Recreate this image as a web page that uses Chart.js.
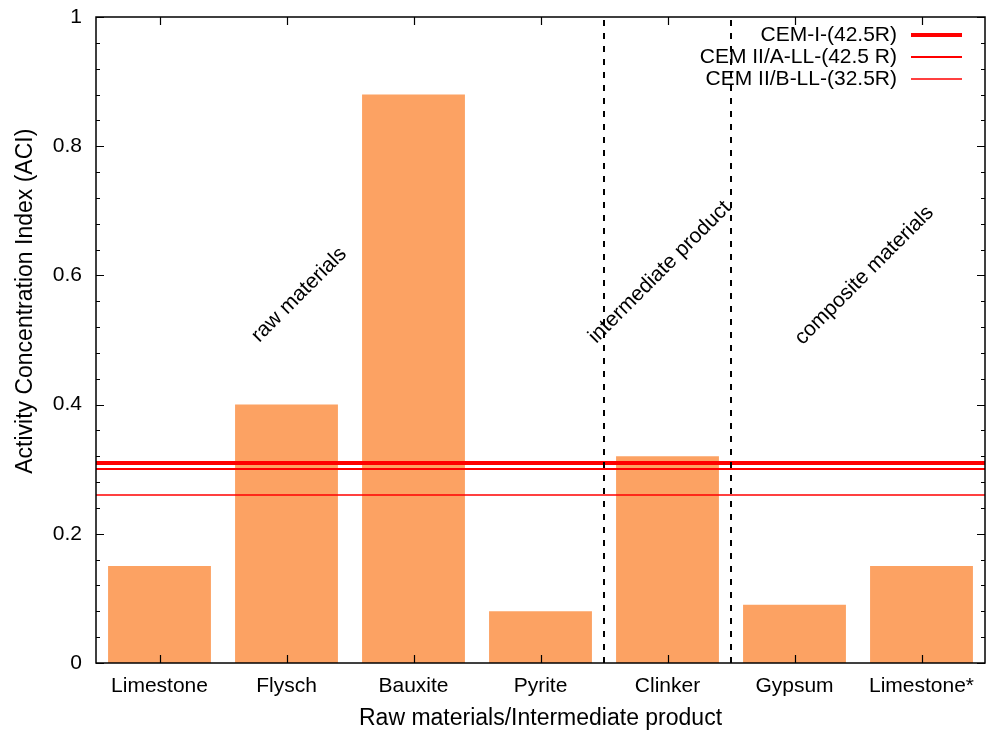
<!DOCTYPE html>
<html>
<head>
<meta charset="utf-8">
<script src="https://cdn.jsdelivr.net/npm/chart.js@4"></script>
<style>
  html, body { margin: 0; padding: 0; background: #fff; }
  #wrap { width: 990px; height: 732px; }
</style>
</head>
<body>
<div id="wrap"><canvas id="aci_grafica"></canvas></div>
<script>
const categories = ['Limestone', 'Flysch', 'Bauxite', 'Pyrite', 'Clinker', 'Gypsum', 'Limestone*'];
const aciValues = [0.15, 0.40, 0.88, 0.08, 0.32, 0.09, 0.15];
const refLabels = ['CEM-I-(42.5R)', 'CEM II/A-LL-(42.5 R)', 'CEM II/B-LL-(32.5R)'];
const refValues = [0.31, 0.30, 0.26];
const groupLabels = ['raw materials', 'intermediate product', 'composite materials'];
const groupDividers = [3.5, 4.5];
const yTicks = [0, 0.2, 0.4, 0.6, 0.8, 1];
const yTitle = 'Activity Concentration Index (ACI)';

const fuente = '"Liberation Sans", Arial, Helvetica, sans-serif';
const refWidths = [4, 2, 1.5];
// where the slanted group labels sit (category index, value)
const groupSpots = [[1.1, 0.57], [3.94, 0.605], [5.55, 0.60]];

const extras = {
  id: 'extras',
  afterDatasetsDraw(chart) {
    const c = chart.ctx;
    const a = chart.chartArea;
    const x = chart.scales.x, y = chart.scales.y;
    c.save();

    // reference lines
    refValues.forEach((v, i) => {
      const py = Math.round(y.getPixelForValue(v));
      c.strokeStyle = '#ff0000';
      c.lineWidth = refWidths[i];
      c.beginPath(); c.moveTo(a.left, py); c.lineTo(a.right, py); c.stroke();
    });

    // dashed dividers
    c.strokeStyle = '#000';
    c.lineWidth = 2;
    c.setLineDash([6, 7]);
    groupDividers.forEach(d => {
      const px = Math.round(x.getPixelForValue(d));
      c.beginPath(); c.moveTo(px, a.bottom); c.lineTo(px, a.top); c.stroke();
    });
    c.setLineDash([]);

    // frame
    c.lineWidth = 1.5;
    c.strokeRect(a.left, a.top, a.right - a.left, a.bottom - a.top);

    // inward ticks
    c.lineWidth = 1.2;
    c.beginPath();
    for (let v = 0; v <= 1.0001; v += 0.04) {
      const py = Math.round(y.getPixelForValue(v)) + 0.5;
      const major = Math.abs(v * 5 - Math.round(v * 5)) < 1e-6;
      const len = major ? 8 : 4;
      c.moveTo(a.left, py); c.lineTo(a.left + len, py);
      c.moveTo(a.right, py); c.lineTo(a.right - len, py);
    }
    categories.forEach((_, i) => {
      const px = Math.round(x.getPixelForValue(i)) + 0.5;
      c.moveTo(px, a.bottom); c.lineTo(px, a.bottom - 8);
      c.moveTo(px, a.top); c.lineTo(px, a.top + 8);
    });
    c.stroke();

    // slanted group labels
    c.fillStyle = '#000';
    c.font = '21px ' + fuente;
    c.textAlign = 'center';
    c.textBaseline = 'middle';
    groupLabels.forEach((t, i) => {
      const px = x.getPixelForValue(groupSpots[i][0]);
      const py = y.getPixelForValue(groupSpots[i][1]);
      c.save();
      c.translate(px, py);
      c.rotate(-Math.PI / 4);
      c.fillText(t, 0, 0);
      c.restore();
    });

    // legend, gnuplot style: text then line sample
    c.textAlign = 'right';
    refLabels.forEach((t, i) => {
      const ly = a.top + 18 + i * 22;
      c.fillStyle = '#000';
      c.fillText(t, a.right - 88, ly);
      c.strokeStyle = '#ff0000';
      c.lineWidth = refWidths[i];
      const sy = Math.round(ly);
      c.beginPath(); c.moveTo(a.right - 74, sy); c.lineTo(a.right - 23, sy); c.stroke();
    });

    // y title (sits a bit above the middle, as in the original)
    c.save();
    c.font = '23px ' + fuente;
    c.textAlign = 'center';
    c.fillStyle = '#000';
    c.translate(26, y.getPixelForValue(0.56));
    c.rotate(-Math.PI / 2);
    c.fillText(yTitle, 0, 0);
    c.restore();

    c.restore();
  }
};

const ctx1 = document.getElementById('aci_grafica').getContext('2d');

new Chart(ctx1, {
  type: 'bar',
  data: {
    labels: categories,
    datasets: [
      {
        label: 'ACI',
        data: aciValues,
        backgroundColor: '#fca263',
        borderWidth: 0,
        categoryPercentage: 1,
        barPercentage: 0.81
      }
    ]
  },
  options: {
    responsive: true,
    maintainAspectRatio: false,
    animation: false,
    layout: { padding: { top: 17, right: 5, left: 0, bottom: 0 } },
    plugins: {
      legend: { display: false },
      tooltip: { enabled: false }
    },
    scales: {
      x: {
        grid: { display: false, drawTicks: false },
        border: { display: false },
        ticks: { color: '#000', padding: 11, font: { family: fuente, size: 21 }, maxRotation: 0 },
        title: {
          display: true,
          text: 'Raw materials/Intermediate product',
          color: '#000',
          font: { family: fuente, size: 23 },
          padding: { top: 4, bottom: 0 }
        },
        afterFit: s => { s.height = 69; s.paddingLeft = 0; s.paddingRight = 0; }
      },
      y: {
        min: 0,
        max: 1,
        grid: { display: false, drawTicks: false },
        border: { display: false },
        ticks: {
          stepSize: 0.2,
          color: '#000',
          padding: 14,
          font: { family: fuente, size: 21 },
          callback: v => yTicks.includes(Math.round(v * 10) / 10) ? String(Math.round(v * 10) / 10) : ''
        },
        afterFit: s => { s.width = 96; s.paddingTop = 0; s.paddingBottom = 0; }
      }
    }
  },
  plugins: [extras]
});
</script>
</body>
</html>
